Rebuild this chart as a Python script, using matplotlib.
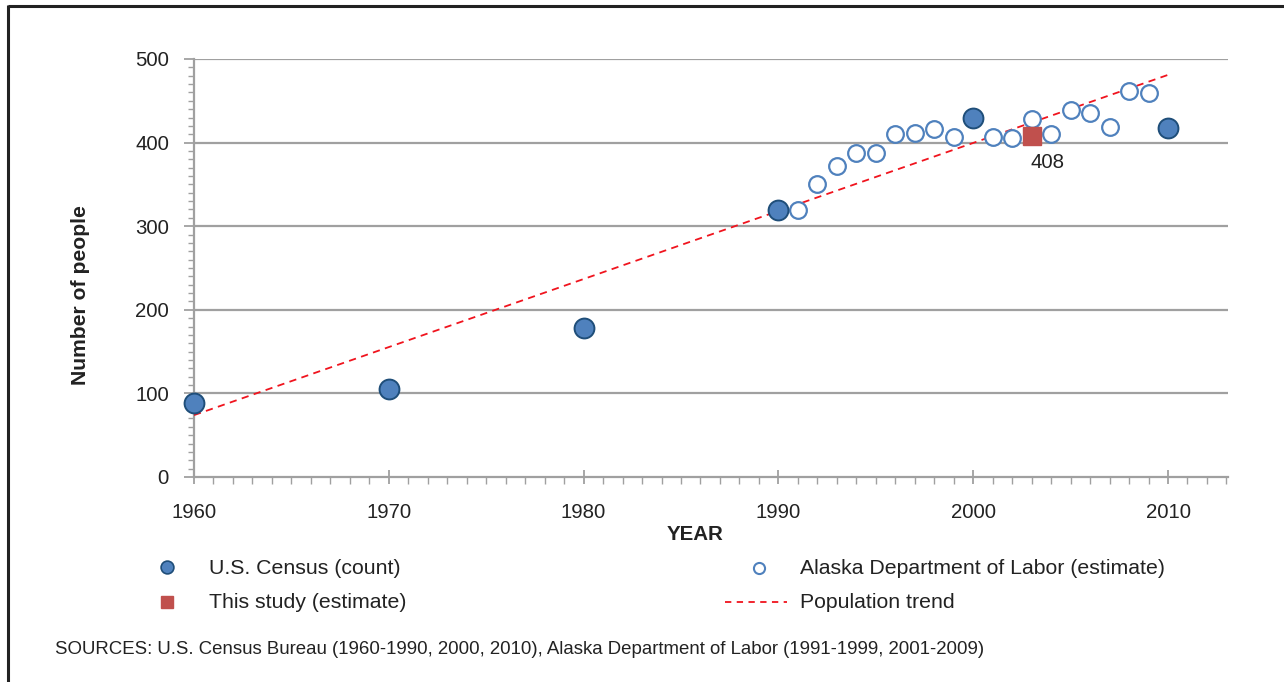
import matplotlib
matplotlib.use("Agg")
import matplotlib.pyplot as plt
from matplotlib.ticker import MultipleLocator, FixedLocator
from matplotlib.lines import Line2D

plt.rcParams['font.family'] = ['Liberation Sans', 'DejaVu Sans']

# ---- data ----
census_years = [1960, 1970, 1980, 1990, 2000, 2010]
census_values = [88, 105, 178, 319, 429, 417]

dol_years = [1991, 1992, 1993, 1994, 1995, 1996, 1997, 1998, 1999,
             2001, 2002, 2003, 2004, 2005, 2006, 2007, 2008, 2009]
dol_values = [319, 350, 372, 388, 387, 410, 412, 416, 407,
              407, 405, 428, 410, 439, 435, 419, 462, 459]

study_years = [2003]
study_values = [408]

trend_years = [1960, 2010]
trend_values = [74, 481]

x_tick_labels = ['1960', '1970', '1980', '1990', '2000', '2010']
y_tick_labels = ['0', '100', '200', '300', '400', '500']

legend_labels = ['U.S. Census (count)', 'Alaska Department of Labor (estimate)',
                 'This study (estimate)', 'Population trend']
source_text = ('SOURCES: U.S. Census Bureau (1960-1990, 2000, 2010), '
               'Alaska Department of Labor (1991-1999, 2001-2009)')

# ---- styles ----
W, H = 1284, 682
blue = '#4F81BD'
dark_blue = '#1F4E79'
red_sq = '#C0504D'
trend_red = '#F0141E'
grid_grey = '#A0A0A0'
text_col = '#222222'

fig = plt.figure(figsize=(W / 100, H / 100), dpi=100)
fig.patch.set_facecolor('white')

ax = fig.add_axes([194 / W, (H - 477) / H, (1228 - 194) / W, (477 - 59) / H])
ax.set_xlim(1960, 2013.08)
ax.set_ylim(0, 500)

for v in [100, 200, 300, 400, 500]:
    ax.axhline(v, color=grid_grey, lw=1.6, zorder=1)

for s in ['top', 'right']:
    ax.spines[s].set_visible(False)
for s in ['left', 'bottom']:
    ax.spines[s].set_color(grid_grey)
    ax.spines[s].set_linewidth(1.6)

ax.xaxis.set_major_locator(FixedLocator([int(t) for t in x_tick_labels]))
ax.set_xticklabels(x_tick_labels)
ax.xaxis.set_minor_locator(MultipleLocator(1))
ax.yaxis.set_major_locator(FixedLocator([int(t) for t in y_tick_labels]))
ax.set_yticklabels(y_tick_labels)
ax.yaxis.set_minor_locator(MultipleLocator(10))

ax.tick_params(axis='x', which='major', direction='inout', length=10, width=1.3,
               color=grid_grey, labelsize=14.7, labelcolor=text_col, pad=14)
ax.tick_params(axis='x', which='minor', direction='out', length=5, width=1.0,
               color=grid_grey)
ax.tick_params(axis='y', which='major', direction='out', length=7, width=1.3,
               color=grid_grey, labelsize=14.7, labelcolor=text_col, pad=11)
ax.tick_params(axis='y', which='minor', direction='out', length=4, width=1.0,
               color=grid_grey)

ax.plot(trend_years, trend_values, color=trend_red, lw=1.3,
        dashes=(4, 3), zorder=3)
ax.plot(dol_years, dol_values, 'o', ms=12, mfc='white', mec=blue,
        mew=1.6, zorder=4, clip_on=False)
ax.plot(census_years, census_values, 'o', ms=14.3, mfc=blue, mec=dark_blue,
        mew=1.4, zorder=5, clip_on=False)
ax.plot(study_years, study_values, 's', ms=12.3, color=red_sq, zorder=6)
ax.annotate(str(study_values[0]), (study_years[0], study_values[0]),
            xytext=(11.5, -19.4), textcoords='offset points', ha='center',
            va='center', fontsize=14.7, color=text_col)

# overlay in pixel coordinates for labels, legend, border
ov = fig.add_axes([0, 0, 1, 1], zorder=-1)
ov.set_xlim(0, W)
ov.set_ylim(H, 0)
ov.axis('off')

ov.text(80, 295, 'Number of people', rotation=90, ha='center', va='center',
        fontsize=15.2, fontweight='bold', color=text_col)
ov.text(695, 534, 'YEAR', ha='center', va='center', fontsize=14.8,
        fontweight='bold', color=text_col)

# legend
ov.plot([167], [567], 'o', ms=9.2, mfc=blue, mec=dark_blue, mew=1.2)
ov.plot([167], [602], 's', ms=8.5, color=red_sq)
ov.plot([759], [568], 'o', ms=8, mfc='white', mec=blue, mew=1.5)
ov.add_line(Line2D([725, 787], [602, 602], color=trend_red, lw=1.3, dashes=(3.5, 3)))
ov.text(209, 568, legend_labels[0], ha='left', va='center', fontsize=15.3, color=text_col)
ov.text(209, 603, legend_labels[2], ha='left', va='center', fontsize=15.3, color=text_col)
ov.text(800, 568, legend_labels[1], ha='left', va='center', fontsize=15.3, color=text_col)
ov.text(800, 603, legend_labels[3], ha='left', va='center', fontsize=15.3, color=text_col)

ov.text(55, 649, source_text, ha='left', va='center', fontsize=13.4, color=text_col)

# border
ov.add_line(Line2D([8, W], [6, 6], color='#222222', lw=2.2, solid_capstyle='butt'))
ov.add_line(Line2D([8, 8], [5, H], color='#222222', lw=2.2, solid_capstyle='butt'))

fig.savefig('out.png', dpi=100)
